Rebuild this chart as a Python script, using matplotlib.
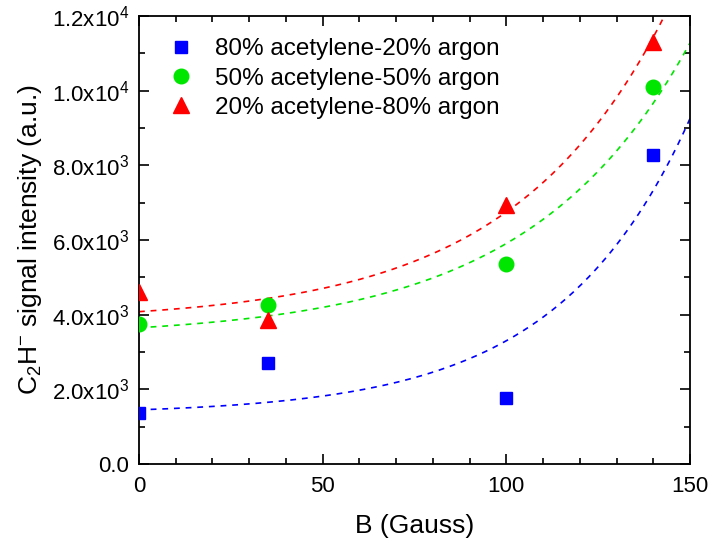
import numpy as np
import matplotlib
matplotlib.use('Agg')
from matplotlib import pyplot as plt
from matplotlib.ticker import MultipleLocator, FuncFormatter

plt.rcParams['font.family'] = ['Liberation Sans', 'DejaVu Sans']
plt.rcParams['mathtext.fontset'] = 'custom'
plt.rcParams['mathtext.rm'] = 'Liberation Sans'
plt.rcParams['mathtext.it'] = 'Liberation Sans'

# measured data
B = [0, 35, 100, 140]
y_80_20 = [1370, 2700, 1780, 8270]
y_50_50 = [3750, 4250, 5350, 10100]
y_20_80 = [4600, 3850, 6950, 11300]

# exponential fit parameters: y0 + A*exp(x/t)
fit_80_20 = (1328, 122.3, 35.96)
fit_50_50 = (3395, 254.7, 43.7)
fit_20_80 = (3808, 272.0, 42.0)

labels = ['80% acetylene-20% argon', '50% acetylene-50% argon',
          '20% acetylene-80% argon']
colors = ['#0000ff', '#00e600', '#ff0000']
markers = ['s', 'o', '^']
sizes = [9, 10.5, 11.5]

fig = plt.figure(figsize=(7.12, 5.46), dpi=100)
ax = fig.add_axes([0.1952, 0.1502, 0.7739, 0.8205])

xf = np.linspace(0, 150, 300)
series = [y_80_20, y_50_50, y_20_80]
fits = [fit_80_20, fit_50_50, fit_20_80]
for ys, fp, lab, c, m, s in zip(series, fits, labels, colors, markers, sizes):
    ax.plot(B, ys, linestyle='none', marker=m, color=c, markersize=s,
            label=lab, zorder=3)
    y0, A, t = fp
    ax.plot(xf, y0 + A * np.exp(xf / t), '--', color=c, lw=1.2,
            dashes=(3.5, 3.5))

ax.set_xlim(0, 150)
ax.set_ylim(0, 12000)
ax.xaxis.set_major_locator(MultipleLocator(50))
ax.xaxis.set_minor_locator(MultipleLocator(10))
ax.yaxis.set_major_locator(MultipleLocator(2000))
ax.yaxis.set_minor_locator(MultipleLocator(1000))


def fmt(v, pos):
    if v <= 0:
        return '0.0'
    e = int(np.floor(np.log10(v)))
    return r'%.1fx10$^{%d}$' % (v / 10 ** e, e)


ax.yaxis.set_major_formatter(FuncFormatter(fmt))
ax.tick_params(which='both', direction='in', top=True, right=True,
               labelsize=16, width=1.2)
ax.tick_params(which='major', length=7)
ax.tick_params(axis='x', which='major', pad=9)
ax.tick_params(axis='y', which='major', pad=7)
ax.tick_params(which='minor', length=4)
for sp in ax.spines.values():
    sp.set_linewidth(1.3)

ax.set_xlabel('B (Gauss)', fontsize=19, labelpad=12)
ax.set_ylabel(r'C$_2$H$^{-}$ signal intensity (a.u.)', fontsize=19,
              labelpad=6)

ax.legend(loc='upper left', frameon=False, fontsize=17.5, handletextpad=0.6,
          borderaxespad=0.8, labelspacing=0.3, handlelength=1.6,
          borderpad=0.12)

plt.savefig('out.png', dpi=100)
